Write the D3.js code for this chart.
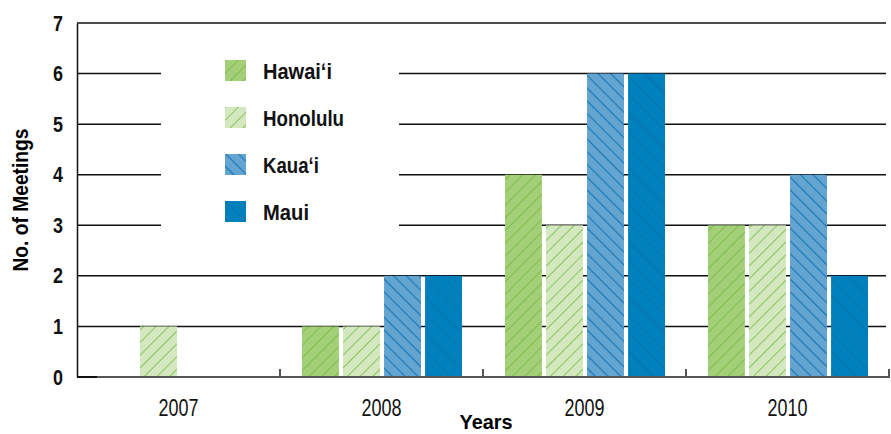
<!DOCTYPE html>
<html>
<head>
<meta charset="utf-8">
<script src="https://cdn.jsdelivr.net/npm/d3@7"></script>
<style>
  body { margin: 0; background: #fff; }
  text { font-family: "Liberation Sans", Arial, sans-serif; }
</style>
</head>
<body>
<script>
// data
const years = ['2007', '2008', '2009', '2010'];
const islands = ['Hawai\u02BBi', 'Honolulu', 'Kaua\u02BBi', 'Maui'];
const hawaii   = [0, 1, 4, 3];
const honolulu = [1, 1, 3, 3];
const kauai    = [0, 2, 6, 4];
const maui     = [0, 2, 6, 2];
const yTicks = [0, 1, 2, 3, 4, 5, 6, 7];

const seriesValues = [hawaii, honolulu, kauai, maui];
const fills = ['#a3cf78', '#d3e8bf', '#63a4d1', '#0080bc'];
const hatch = ['#78bd44', '#80c050', '#1677b5', '#0a6fa8'];
// label widths in the narrow face of the original
const legendWidths = [69, 81, 56, 46];

const W = 891, H = 434;
const margin = { top: 23, right: 2, bottom: 57, left: 77 };
const width = W - margin.left - margin.right;
const height = H - margin.top - margin.bottom;

const svg = d3.select('body').append('svg')
    .attr('width', W)
    .attr('height', H);

// hatch patterns
const defs = svg.append('defs');
seriesValues.forEach((s, i) => {
    const green = i < 2;
    const p = defs.append('pattern')
        .attr('id', 'hatch' + i)
        .attr('patternUnits', 'userSpaceOnUse')
        .attr('width', i === 3 ? 13 : 9)
        .attr('height', i === 3 ? 13 : 9)
        .attr('patternTransform', green ? 'rotate(45)' : 'rotate(-45)');
    p.append('rect')
        .attr('width', 20).attr('height', 20)
        .attr('fill', fills[i]);
    p.append('line')
        .attr('x1', 0).attr('y1', 0)
        .attr('x2', 0).attr('y2', 20)
        .attr('stroke', hatch[i])
        .attr('stroke-width', i === 2 ? 2.2 : (i === 3 ? 1.4 : 1.8));
});

const g = svg.append('g')
    .attr('transform', `translate(${margin.left},${margin.top})`);

const x0 = d3.scaleBand().domain(years).range([0, width]);
const x1 = d3.scaleBand().domain(d3.range(islands.length))
    .range([22, x0.bandwidth() - 21]).paddingInner(0.1);
const y = d3.scaleLinear().domain([0, 7]).range([height, 0]);

// gridlines
g.append('g')
    .selectAll('line')
    .data(yTicks.filter(d => d > 0))
    .enter().append('line')
    .attr('x1', 0).attr('x2', width - 3)
    .attr('y1', d => y(d)).attr('y2', d => y(d))
    .attr('stroke', '#111')
    .attr('stroke-width', 1.5);

// white box behind legend
g.append('rect')
    .attr('x', 84).attr('y', 12)
    .attr('width', 238).attr('height', 215)
    .attr('fill', '#fff');

// bars
const groups = g.selectAll('.year')
    .data(years)
    .enter().append('g')
    .attr('transform', d => `translate(${x0(d)},0)`);

groups.selectAll('rect')
    .data((d, yi) => seriesValues.map((s, si) => ({ si, v: s[yi] })).filter(d => d.v > 0))
    .enter().append('rect')
    .attr('x', d => x1(d.si))
    .attr('width', x1.bandwidth())
    .attr('y', d => y(d.v))
    .attr('height', d => y(0) - y(d.v))
    .attr('fill', d => `url(#hatch${d.si})`);

// y axis
const yAxis = g.append('g')
    .call(d3.axisLeft(y).tickValues(yTicks).tickFormat(d3.format('d')).tickSize(0).tickPadding(14));
yAxis.select('.domain').attr('stroke', '#111').attr('stroke-width', 1.5);
yAxis.selectAll('text')
    .attr('fill', '#111')
    .attr('textLength', 10)
    .attr('lengthAdjust', 'spacingAndGlyphs')
    .style('font-size', '22px')
    .style('font-weight', 'bold');

// x axis
const xAxis = g.append('g')
    .attr('transform', `translate(0,${height})`)
    .call(d3.axisBottom(x0).tickSize(0).tickPadding(0));
xAxis.select('.domain').remove();
xAxis.append('line')
    .attr('x1', 0).attr('x2', width)
    .attr('stroke', '#555').attr('stroke-width', 2);
xAxis.append('line')
    .attr('x1', 0).attr('x2', 20)
    .attr('stroke', '#111').attr('stroke-width', 2);
xAxis.selectAll('.sep')
    .data(years.slice(1).concat(['end']))
    .enter().append('line')
    .attr('x1', d => d === 'end' ? width : x0(d))
    .attr('x2', d => d === 'end' ? width : x0(d))
    .attr('y1', -8).attr('y2', 1)
    .attr('stroke', '#555').attr('stroke-width', 2);
xAxis.selectAll('.tick text')
    .attr('fill', '#111')
    .attr('y', 39)
    .attr('dy', null)
    .attr('textLength', 40)
    .attr('lengthAdjust', 'spacingAndGlyphs')
    .style('font-size', '23px');

// axis titles
svg.append('text')
    .attr('x', margin.left + width / 2 + 3)
    .attr('y', 429)
    .attr('text-anchor', 'middle')
    .attr('textLength', 53)
    .attr('lengthAdjust', 'spacingAndGlyphs')
    .style('font-size', '21px')
    .style('font-weight', 'bold')
    .text('Years');

svg.append('text')
    .attr('transform', `translate(28,${margin.top + height / 2}) rotate(-90)`)
    .attr('text-anchor', 'middle')
    .attr('textLength', 143)
    .attr('lengthAdjust', 'spacingAndGlyphs')
    .style('font-size', '22px')
    .style('font-weight', 'bold')
    .text('No. of Meetings');

// legend
const legend = svg.append('g')
    .selectAll('g')
    .data(islands)
    .enter().append('g')
    .attr('transform', (d, i) => `translate(225,${60 + i * 47})`);
legend.append('rect')
    .attr('width', 21).attr('height', 21)
    .attr('fill', (d, i) => `url(#hatch${i})`);
legend.append('text')
    .attr('x', 38).attr('y', 19)
    .attr('textLength', (d, i) => legendWidths[i])
    .attr('lengthAdjust', 'spacingAndGlyphs')
    .style('font-size', '22px')
    .style('font-weight', 'bold')
    .attr('fill', '#111')
    .text(d => d);
</script>
</body>
</html>
